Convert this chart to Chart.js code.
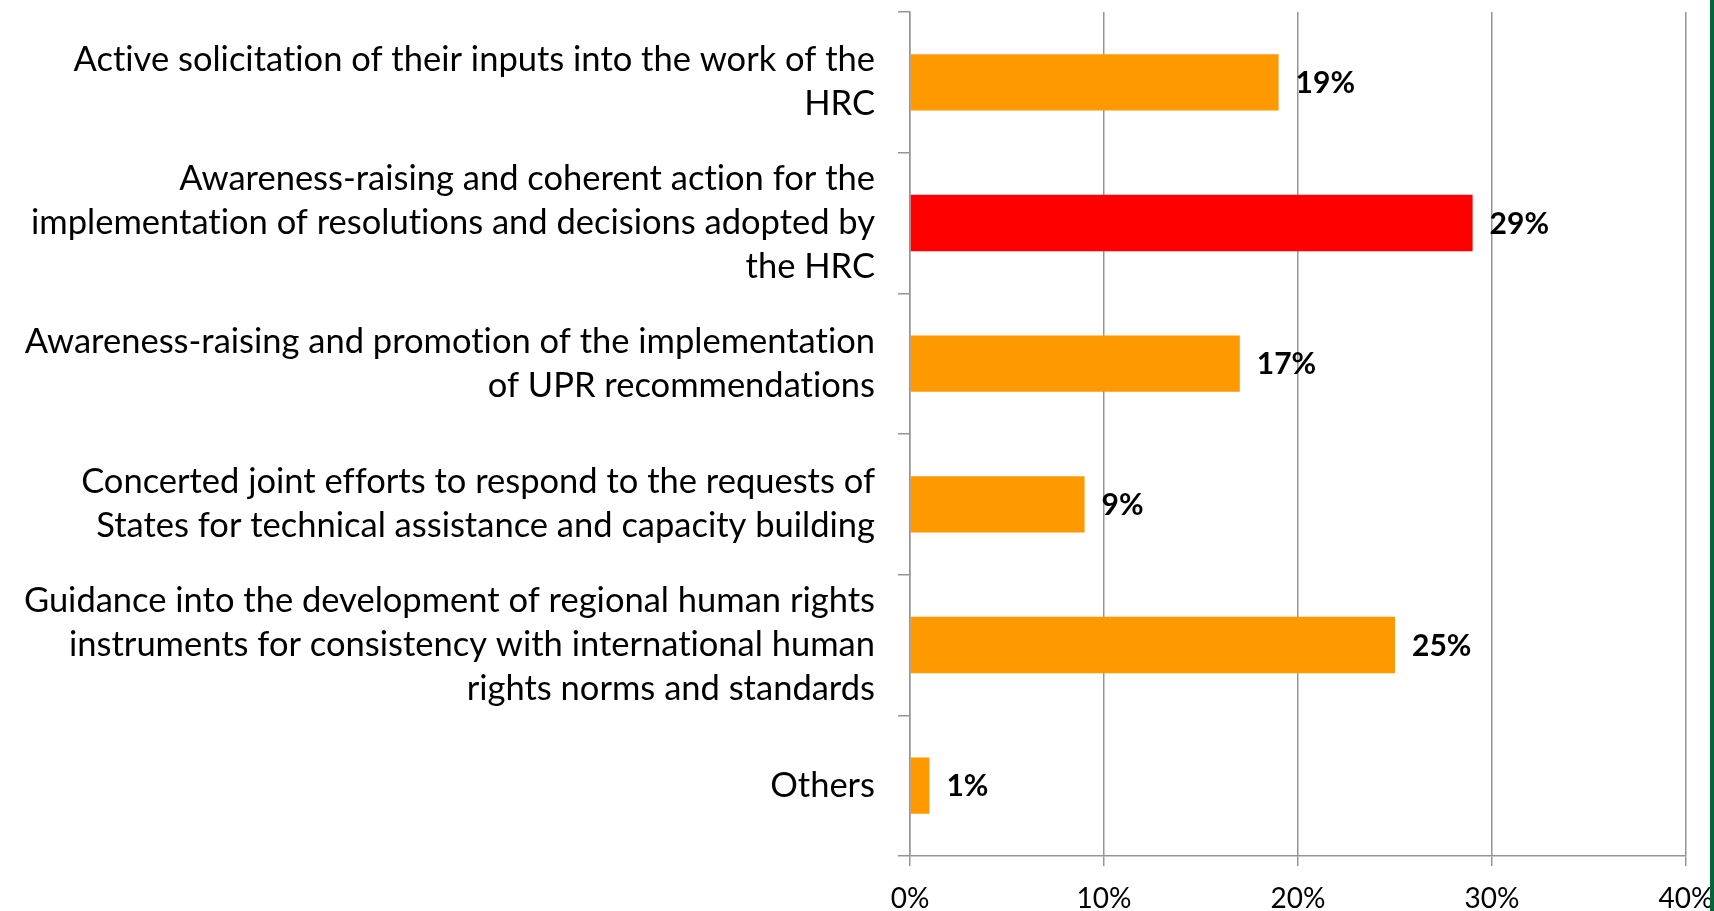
<!DOCTYPE html>
<html>
<head>
<meta charset="utf-8">
<script src="https://cdn.jsdelivr.net/npm/chart.js@4/dist/chart.umd.min.js"></script>
<style>
  html, body { margin:0; padding:0; background:#fff; }
  #wrap { position:relative; width:1714px; height:911px; overflow:hidden; }
  #edge { position:absolute; left:1710px; top:0; width:4px; height:911px; background:#04653a; }
</style>
</head>
<body>
<div id="wrap">
  <canvas id="c" width="1714" height="911"></canvas>
  <div id="edge"></div>
</div>
<script>
/* dados */
const categories = [
  ["Active solicitation of their inputs into the work of the", "HRC"],
  ["Awareness-raising and coherent action for the", "implementation of resolutions and decisions adopted by", "the HRC"],
  ["Awareness-raising and promotion of the implementation", "of UPR recommendations"],
  ["Concerted joint efforts to respond to the requests of", "States for technical assistance and capacity building"],
  ["Guidance into the development of regional human rights", "instruments for consistency with international human", "rights norms and standards"],
  "Others"
];
const shares = [19, 29, 17, 9, 25, 1];        // %
const barColors = ["#ff9900", "#ff0000", "#ff9900", "#ff9900", "#ff9900", "#ff9900"];
const xTicks = [0, 10, 20, 30, 40];

const FONT = "Lato, 'Open Sans', sans-serif";
const GRID = "#959595";

// sem ligaduras (ti, ...) como no original
const plainText = {
  id: "plainText",
  beforeDraw(chart){ chart.ctx.textRendering = "optimizeSpeed"; }
};

// etiquetas de valor no fim das barras
const valueLabels = {
  id: "valueLabels",
  afterDatasetsDraw(chart){
    const ctx = chart.ctx;
    const meta = chart.getDatasetMeta(0);
    ctx.save();
    ctx.font = "bold 30px " + FONT;
    ctx.fillStyle = "#000";
    ctx.textAlign = "left";
    ctx.textBaseline = "middle";
    meta.data.forEach((bar, i) => {
      ctx.fillText(shares[i] + "%", bar.x + 17, bar.y + 1);
    });
    ctx.restore();
  }
};

new Chart(document.getElementById("c"), {
  type: "bar",
  data: {
    labels: categories,
    datasets: [{
      data: shares,
      backgroundColor: barColors,
      borderWidth: 0,
      barPercentage: 0.4,
      categoryPercentage: 1
    }]
  },
  options: {
    indexAxis: "y",
    responsive: false,
    animation: false,
    layout: { padding: { top: 12, right: 0, left: 0, bottom: 0 } },
    plugins: { legend: { display: false }, tooltip: { enabled: false } },
    scales: {
      x: {
        min: 0, max: 40,
        afterBuildTicks: s => { s.ticks = xTicks.map(v => ({ value: v })); },
        afterFit: s => { s.height = 55; s.paddingLeft = 0; s.paddingRight = 28; },
        grid: { color: GRID, lineWidth: 1.5, tickLength: 10, tickColor: GRID },
        border: { color: GRID, width: 1.5 },
        ticks: {
          callback: v => v + "%",
          color: "#000",
          padding: 16,
          font: { family: FONT, size: 28 }
        }
      },
      y: {
        afterFit: s => { s.width = 910; s.paddingTop = 0; s.paddingBottom = 0; },
        grid: { offset: true, drawOnChartArea: false, color: GRID, lineWidth: 1.5, tickLength: 12 },
        border: { color: GRID, width: 1.5 },
        ticks: {
          autoSkip: false,
          color: "#000",
          padding: 23,
          font: { family: FONT, size: 34.5, lineHeight: 44/34.5 }
        }
      }
    }
  },
  plugins: [plainText, valueLabels]
});
</script>
</body>
</html>
